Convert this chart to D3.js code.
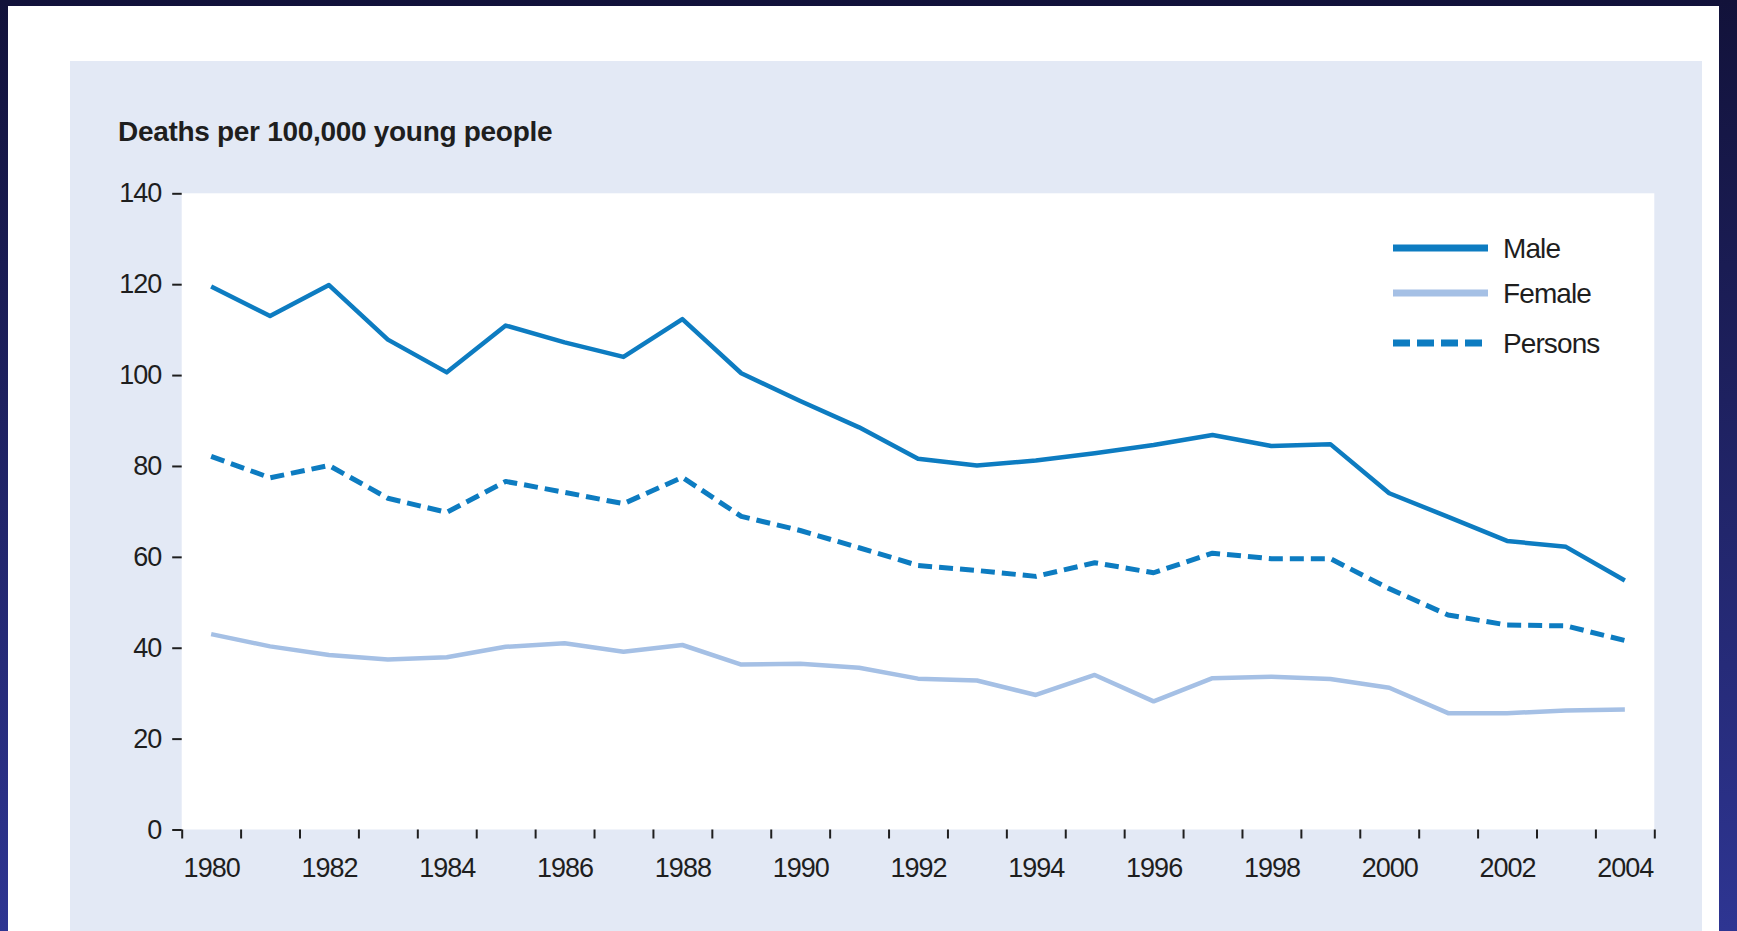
<!DOCTYPE html>
<html>
<head>
<meta charset="utf-8">
<script src="https://cdn.jsdelivr.net/npm/d3@7"></script>
<style>
  html, body { margin: 0; padding: 0; background: #ffffff; }
  svg { display: block; }
  text { font-family: "Liberation Sans", Arial, Helvetica, sans-serif; fill: #1e1e1e; }
</style>
</head>
<body>
<svg id="chart" width="1737" height="931"></svg>
<script>
// ---- Data ----
const years = [1980,1981,1982,1983,1984,1985,1986,1987,1988,1989,1990,1991,1992,1993,1994,1995,1996,1997,1998,1999,2000,2001,2002,2003,2004];
const maleValues    = [119.5,113.0,119.8,107.8,100.6,110.9,107.2,104.0,112.3,100.4,94.3,88.5,81.6,80.1,81.2,82.8,84.6,86.8,84.4,84.8,74.0,68.8,63.5,62.2,54.8];
const femaleValues  = [43.0,40.3,38.4,37.4,37.9,40.2,41.0,39.1,40.6,36.3,36.5,35.6,33.2,32.8,29.6,34.0,28.2,33.3,33.6,33.1,31.2,25.6,25.6,26.2,26.4];
const personsValues = [82.1,77.4,80.1,72.9,69.8,76.6,74.2,71.7,77.5,68.9,65.8,62.0,58.1,57.0,55.7,58.7,56.5,60.8,59.6,59.6,53.0,47.2,45.0,44.8,41.6];
const yTickValues = [0,20,40,60,80,100,120,140];
const xLabelYears = [1980,1982,1984,1986,1988,1990,1992,1994,1996,1998,2000,2002,2004];
const seriesNames = ["Male","Female","Persons"];
const yAxisTitle = "Deaths per 100,000 young people";

// ---- Layout ----
const W = 1737, H = 931;
const plot = { left: 181.7, right: 1654.3, top: 193.3, bottom: 829.5 };
const svg = d3.select("#chart");

const defs = svg.append("defs");
const grad = defs.append("linearGradient").attr("id","frameGrad")
  .attr("x1","0").attr("y1","0").attr("x2","0").attr("y2","1");
grad.append("stop").attr("offset","0%").attr("stop-color","#12123a");
grad.append("stop").attr("offset","100%").attr("stop-color","#2e3592");

// dark frame
svg.append("rect").attr("x",0).attr("y",0).attr("width",W).attr("height",H).attr("fill","url(#frameGrad)");
svg.append("rect").attr("x",8).attr("y",6).attr("width",1711).attr("height",H-6).attr("fill","#ffffff");
// light panel
svg.append("rect").attr("x",70).attr("y",61).attr("width",1632).attr("height",H-61).attr("fill","#e3e9f5");
// plot area
svg.append("rect").attr("x",plot.left).attr("y",plot.top)
  .attr("width",plot.right-plot.left).attr("height",plot.bottom-plot.top).attr("fill","#ffffff");

// ---- Scales ----
const x = d3.scaleLinear().domain([years[0]-0.5, years[years.length-1]+0.5]).range([plot.left, plot.right]);
const y = d3.scaleLinear().domain([0,140]).range([plot.bottom, plot.top]);

// ---- Axes ----
const yAxis = svg.append("g").attr("transform",`translate(${plot.left},0)`)
  .call(d3.axisLeft(y).tickValues(yTickValues).tickSize(9.5).tickPadding(11).tickSizeOuter(0));
yAxis.select(".domain").remove();
yAxis.selectAll(".tick line").attr("stroke","#1e1e1e").attr("stroke-width",2);
yAxis.selectAll(".tick text").attr("font-size",27).attr("fill","#1e1e1e")
  .style("font-family","'Liberation Sans', Arial, sans-serif").attr("letter-spacing","-1px");

const boundaries = d3.range(years[0]-0.5, years[years.length-1]+1, 1);
const xTicks = svg.append("g").attr("transform",`translate(0,${plot.bottom})`)
  .call(d3.axisBottom(x).tickValues(boundaries).tickSize(9).tickFormat(""));
xTicks.select(".domain").remove();
xTicks.selectAll(".tick line").attr("stroke","#1e1e1e").attr("stroke-width",2);

const xLabels = svg.append("g").attr("transform",`translate(0,${plot.bottom})`)
  .call(d3.axisBottom(x).tickValues(xLabelYears).tickSize(0).tickPadding(28).tickFormat(d3.format("d")));
xLabels.select(".domain").remove();
xLabels.selectAll(".tick text").attr("font-size",27).attr("fill","#1e1e1e")
  .style("font-family","'Liberation Sans', Arial, sans-serif").attr("letter-spacing","-1px");

// title
svg.append("text").attr("x",118).attr("y",141).attr("font-size",28).attr("font-weight","bold")
  .attr("letter-spacing","-0.3px").text(yAxisTitle);

// ---- Lines ----
const line = d3.line().x((d,i)=>x(years[i])).y(d=>y(d));
const blue = "#0d7cc1", lightBlue = "#a5c0e5";
svg.append("path").datum(femaleValues).attr("d",line).attr("fill","none")
  .attr("stroke",lightBlue).attr("stroke-width",4.5).attr("stroke-linejoin","round");
svg.append("path").datum(personsValues).attr("d",line).attr("fill","none")
  .attr("stroke",blue).attr("stroke-width",5).attr("stroke-dasharray","14,7").attr("stroke-linejoin","round");
svg.append("path").datum(maleValues).attr("d",line).attr("fill","none")
  .attr("stroke",blue).attr("stroke-width",4.5).attr("stroke-linejoin","round");

// ---- Legend ----
const legend = svg.append("g");
const legendItems = [
  {name: seriesNames[0], color: blue, dash: null, y: 248},
  {name: seriesNames[1], color: lightBlue, dash: null, y: 293},
  {name: seriesNames[2], color: blue, dash: "17,7", y: 343}
];
legendItems.forEach(it => {
  legend.append("line").attr("x1",1393).attr("x2",1488).attr("y1",it.y).attr("y2",it.y)
    .attr("stroke",it.color).attr("stroke-width",7).attr("stroke-dasharray",it.dash);
  legend.append("text").attr("x",1503).attr("y",it.y).attr("dy","0.35em")
    .attr("font-size",28).attr("letter-spacing","-0.9px").text(it.name);
});
</script>
</body>
</html>
